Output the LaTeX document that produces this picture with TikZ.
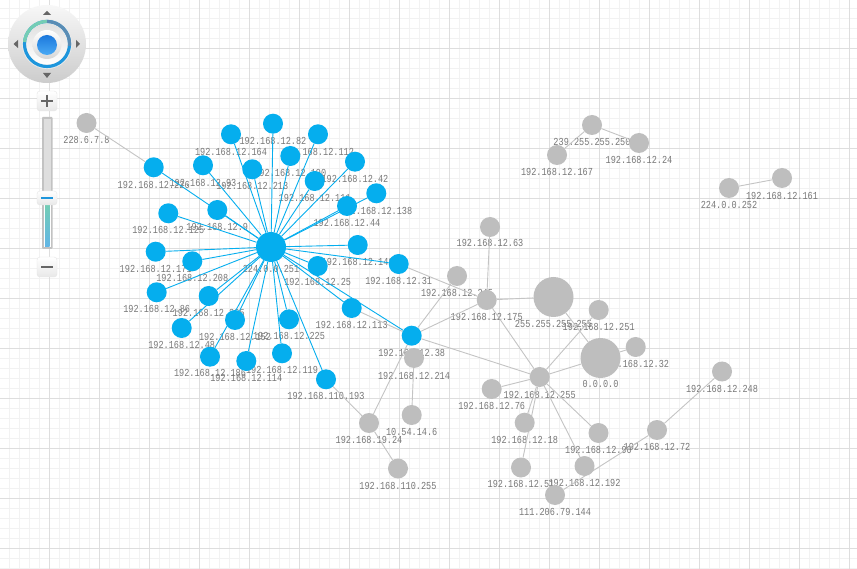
\documentclass[tikz,border=0pt]{standalone}
\usepackage{fontspec}
\newfontfamily\labfont[FakeStretch=0.8]{Liberation Mono}
\usetikzlibrary{backgrounds,shadings}
\definecolor{nodeblue}{HTML}{05AEEE}
\definecolor{nodegray}{HTML}{BEBEBE}
\definecolor{edgegray}{HTML}{C4C4C4}
\definecolor{labgray}{HTML}{787878}
\definecolor{ringblue}{HTML}{1E96DC}
\definecolor{ringgreen}{HTML}{74CDB4}
\definecolor{ringslate}{HTML}{5A8CB4}
\definecolor{balltop}{HTML}{1C78DC}
\definecolor{ballbot}{HTML}{4AAAF5}
\tikzset{
 x=1pt,y=-1pt,
 ip/.style={circle,fill=nodeblue,draw=none,inner sep=0pt,minimum size=20pt},
 gp/.style={circle,fill=nodegray,draw=none,inner sep=0pt,minimum size=20pt},
 iplab/.style={font=\labfont\fontsize{10.7pt}{10.7pt}\selectfont,text=labgray,inner sep=0pt,anchor=center},
 bluelink/.style={draw=nodeblue,line width=0.9pt},
 graylink/.style={draw=edgegray,line width=0.9pt},
 btn/.style={draw=black!10,rounded corners=3pt,top color=white,bottom color=black!9},
 tri/.style={fill=black!60,draw=none},
}
% name, x, y, style, label, label y
\newcommand{\ipn}[6]{\node[#4] (#1) at (#2,#3) {};
 \begin{pgfonlayer}{background}\node[iplab] (#1-lab) at (#2,#6) {#5};\end{pgfonlayer}}
\begin{document}
\begin{tikzpicture}
\useasboundingbox (0,0) rectangle (857,569);
\begin{pgfonlayer}{background}
\fill[white] (0,0) rectangle (857,569);
\foreach \k in {0,...,85} \draw[draw=black!5,line width=0.8pt] ({9.5+10*\k},0) -- ({9.5+10*\k},569);
\foreach \k in {0,...,56} \draw[draw=black!5,line width=0.8pt] (0,{8+10*\k}) -- (857,{8+10*\k});
\foreach \k in {0,...,16} \draw[draw=black!13,line width=0.9pt] ({49.5+50*\k},0) -- ({49.5+50*\k},569);
\foreach \k in {0,...,10} \draw[draw=black!13,line width=0.9pt] (0,{48+50*\k}) -- (857,{48+50*\k});
\end{pgfonlayer}

% hub
\node[ip,minimum size=30pt] (hub) at (271,247) {};
\begin{pgfonlayer}{background}\node[iplab] (hub-lab) at (271,268.5) {224.0.0.251};\end{pgfonlayer}
% blue hosts
\ipn{b226}{153.7}{167.3}{ip}{192.168.12.226}{185}
\ipn{b93}{203}{165.3}{ip}{192.168.12.93}{182.7}
\ipn{b164}{231}{134.3}{ip}{192.168.12.164}{151.7}
\ipn{b82}{273}{123.7}{ip}{192.168.12.82}{140.7}
\ipn{b112}{318}{134.3}{ip}{192.168.12.112}{151.7}
\ipn{b190}{290.3}{156}{ip}{192.168.12.190}{172.7}
\ipn{b213}{252.3}{169.3}{ip}{192.168.12.213}{186}
\ipn{b42}{355}{161.7}{ip}{192.168.12.42}{178.7}
\ipn{b111}{314.7}{181}{ip}{192.168.12.111}{198}
\ipn{b138}{376.3}{193.3}{ip}{192.168.12.138}{210.7}
\ipn{b44}{347}{206}{ip}{192.168.12.44}{222.7}
\ipn{b9}{217.3}{210}{ip}{192.168.12.9}{227}
\ipn{b125}{168.3}{213.3}{ip}{192.168.12.125}{230}
\ipn{b148}{357.7}{245}{ip}{192.168.12.148}{262.3}
\ipn{b171}{155.7}{251.7}{ip}{192.168.12.171}{268.7}
\ipn{b208}{192.3}{261.3}{ip}{192.168.12.208}{278}
\ipn{b25}{317.7}{266}{ip}{192.168.12.25}{282}
\ipn{b31}{398.7}{264}{ip}{192.168.12.31}{281}
\ipn{b86}{156.7}{292.3}{ip}{192.168.12.86}{308.7}
\ipn{b205}{208.7}{296}{ip}{192.168.12.205}{312.7}
\ipn{b48}{181.7}{328}{ip}{192.168.12.48}{345}
\ipn{b152}{235}{320}{ip}{192.168.12.152}{336.7}
\ipn{b225}{289}{319.3}{ip}{192.168.12.225}{335.7}
\ipn{b113}{351.7}{308}{ip}{192.168.12.113}{324.7}
\ipn{b38}{411.7}{335.7}{ip}{192.168.12.38}{352.7}
\ipn{b186}{210}{356.7}{ip}{192.168.12.186}{372.7}
\ipn{b114}{246.3}{361}{ip}{192.168.12.114}{378}
\ipn{b119}{282}{353.3}{ip}{192.168.12.119}{369.7}
\ipn{b193}{326}{379.3}{ip}{192.168.110.193}{396}
% gray hosts
\ipn{g228}{86.5}{123}{gp}{228.6.7.8}{140}
\ipn{g239}{592}{125}{gp}{239.255.255.250}{142}
\ipn{g167}{557}{155}{gp}{192.168.12.167}{172}
\ipn{g24}{639}{143}{gp}{192.168.12.24}{159.5}
\ipn{g252}{729}{188}{gp}{224.0.0.252}{204.5}
\ipn{g161}{782}{178}{gp}{192.168.12.161}{195.5}
\ipn{g63}{490}{227}{gp}{192.168.12.63}{243}
\ipn{g245}{457}{276}{gp}{192.168.12.245}{293}
\ipn{g175}{486.7}{300}{gp}{192.168.12.175}{316.5}
\ipn{gbc}{553.5}{297}{gp,minimum size=40pt}{255.255.255.255}{324}
\ipn{g251}{598.7}{310}{gp}{192.168.12.251}{326.5}
\ipn{gzero}{600.5}{358}{gp,minimum size=40pt}{0.0.0.0}{384}
\ipn{g32}{635.7}{347}{gp}{192.168.12.32}{364}
\ipn{g214}{414}{358}{gp}{192.168.12.214}{375.5}
\ipn{g10}{411.7}{415}{gp}{10.54.14.6}{432}
\ipn{g1924}{369}{423}{gp}{192.168.19.24}{439.5}
\ipn{g110}{398}{468.5}{gp}{192.168.110.255}{485.5}
\ipn{g255}{539.7}{377}{gp}{192.168.12.255}{394.5}
\ipn{g76}{491.7}{389}{gp}{192.168.12.76}{405.5}
\ipn{g18}{524.7}{422.7}{gp}{192.168.12.18}{439.5}
\ipn{g90}{598.5}{433}{gp}{192.168.12.90}{449.5}
\ipn{g51}{521}{467.5}{gp}{192.168.12.51}{483.5}
\ipn{g192}{584.5}{466}{gp}{192.168.12.192}{482.5}
\ipn{g111}{555}{495}{gp}{111.206.79.144}{512}
\ipn{g72}{657}{430}{gp}{192.168.12.72}{447}
\ipn{g248}{722}{371.5}{gp}{192.168.12.248}{388.5}

\begin{pgfonlayer}{background}
\foreach \t in {b226,b93,b164,b82,b112,b190,b213,b42,b111,b138,b44,b9,b125,b148,b171,b208,b25,b31,b86,b205,b48,b152,b225,b113,b38,b186,b114,b119,b193}
  \draw[bluelink] (hub) -- (\t);
\foreach \a/\b in {g228/b226,b31/g175,b38/g245,b38/g175,b38/g255,b113/b38,b193/g1924,b38/g1924,g214/g10,g1924/g110,
  g175/g63,g175/gbc,g175/g255,g255/g251,gbc/gzero,g255/gzero,gzero/g32,g255/g76,g255/g18,g255/g51,g255/g192,g255/g90,
  g111/g72,g72/g248,g239/g167,g239/g24,g252/g161}
  \draw[graylink] (\a) -- (\b);
\end{pgfonlayer}

% compass control
\shade[top color=black!3,bottom color=black!20] (47,44) circle (39);
\fill[black!8] (47,44) circle (25);
\draw[line width=3.2pt,draw=ringblue] (47,44) circle (22.5);
\draw[line width=3.2pt,draw=ringgreen] plot[domain=90:175,samples=24] ({47+22.5*cos(\x)},{44-22.5*sin(\x)});
\draw[line width=3.2pt,draw=ringslate] plot[domain=-5:90,samples=24] ({47+22.5*cos(\x)},{44-22.5*sin(\x)});
\shade[top color=black!12,bottom color=white] (47,44) circle (20.5);
\shade[top color=white,bottom color=black!16] (47,44.5) circle (14.5);
\shade[top color=balltop,bottom color=ballbot] (47,45) circle (10);
\fill[tri] (47,11) -- (51,15) -- (43,15) -- cycle;
\fill[tri] (47,78) -- (51,73) -- (43,73) -- cycle;
\fill[tri] (13.5,44) -- (18,40) -- (18,48) -- cycle;
\fill[tri] (80,44) -- (76,40) -- (76,48) -- cycle;
% plus
\draw[btn] (37,91) rectangle (57,111);
\draw[black!60,line width=1.6pt] (41,101) -- (53,101) (47,95) -- (47,107);
% slider
\fill[black!24,rounded corners=1pt] (42,117) rectangle (52.5,249);
\fill[black!13] (44,119) rectangle (50.5,192);
\fill[white] (44,204) rectangle (50.5,247.5);
\shade[top color=ringgreen,bottom color=ringblue!70!white] (45,204) rectangle (49.5,247);
\draw[btn] (37,191) rectangle (57,205);
\draw[ringblue,line width=1.6pt] (41,198) -- (53,198);
% minus
\draw[btn] (37,257) rectangle (57,277);
\draw[black!60,line width=1.6pt] (41,267) -- (53,267);
\end{tikzpicture}
\end{document}
